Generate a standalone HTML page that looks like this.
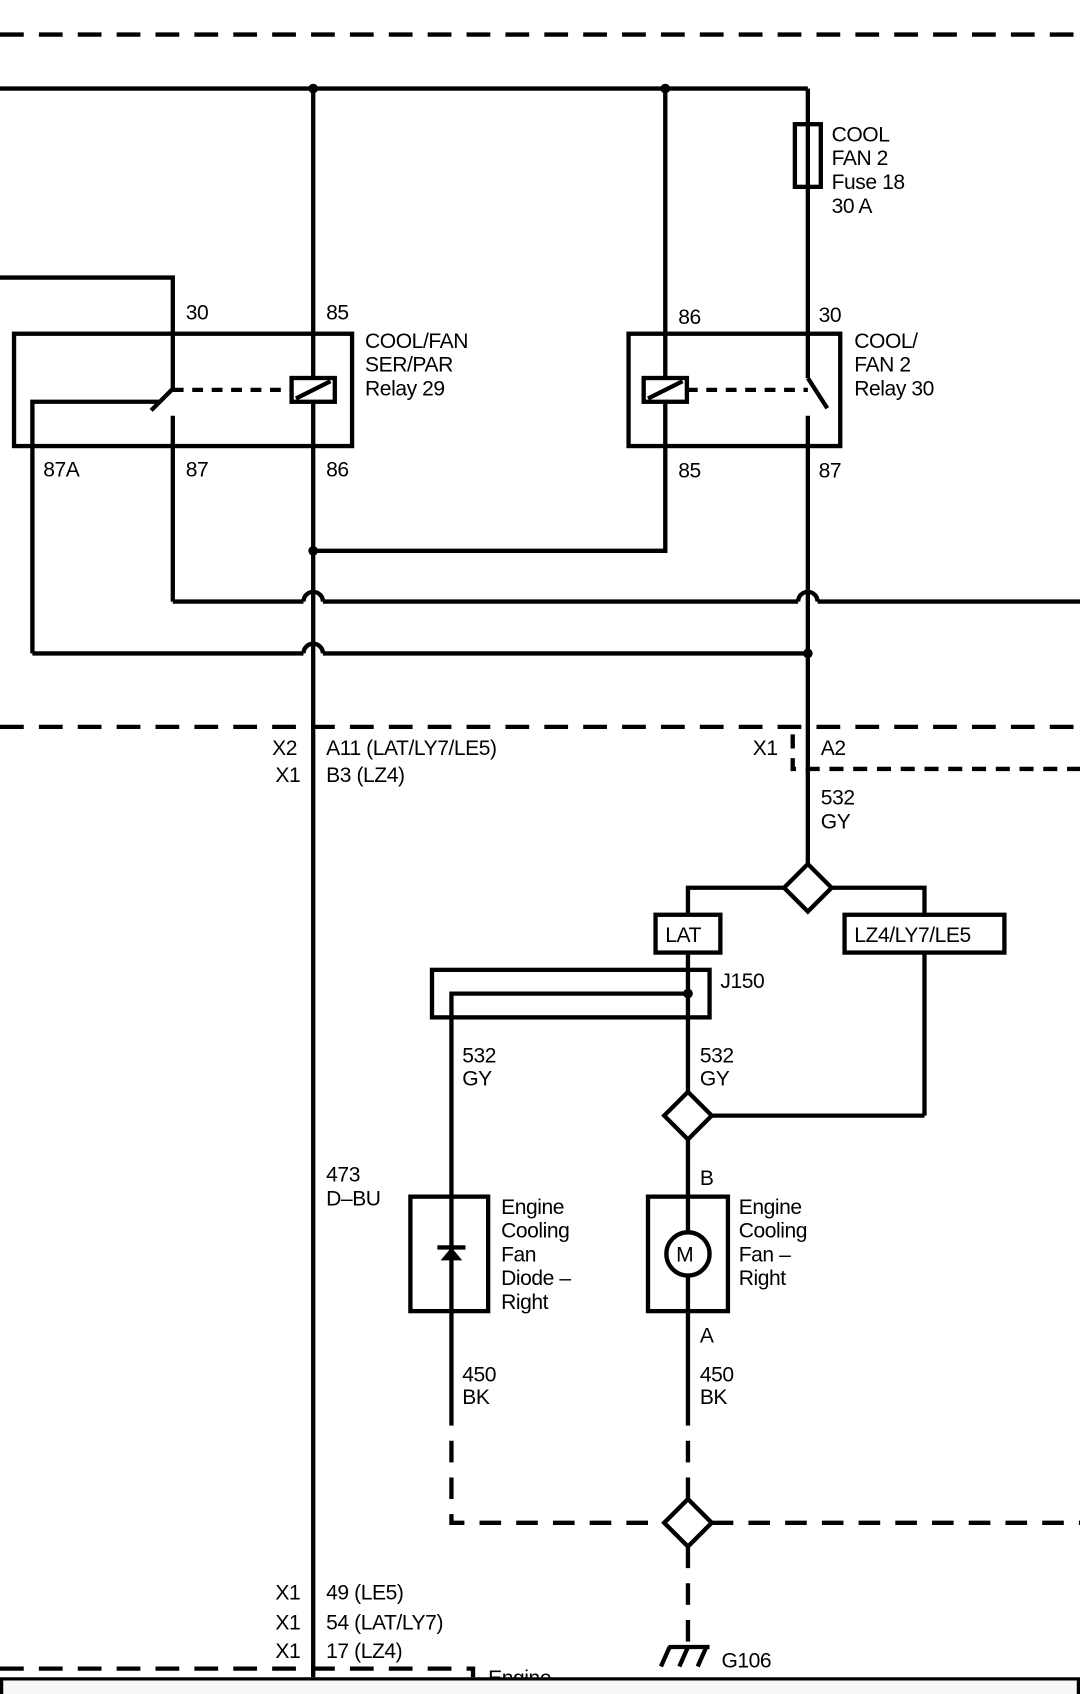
<!DOCTYPE html>
<html><head><meta charset="utf-8"><style>
html,body{margin:0;padding:0;background:#fff;}
svg{display:block;}
text{font-family:"Liberation Sans",Arial,sans-serif;font-size:19.5px;fill:#000;letter-spacing:-0.4px;}
</style></head><body>
<svg width="1080" height="1694" viewBox="0 0 1000 1568.5" xmlns="http://www.w3.org/2000/svg">
<g fill="none" stroke="#000" stroke-width="4">
<line x1="0" y1="32" x2="1000" y2="32" stroke-dasharray="22 14"/>
<line x1="0" y1="673" x2="1000" y2="673" stroke-dasharray="22 14"/>
<polyline points="734,680 734,712 1000,712" stroke-dasharray="13 9"/>
<polyline points="0,1545 438,1545 438,1553" stroke-dasharray="22 14"/>
<line x1="0" y1="82" x2="748" y2="82"/>
<line x1="290" y1="82" x2="290" y2="1553"/>
<polyline points="616,82 616,510 290,510"/>
<line x1="748" y1="82" x2="748" y2="350"/>
<rect x="736" y="115" width="24" height="58" fill="#fff"/>
<line x1="748" y1="115" x2="748" y2="173"/>
<rect x="13" y="309" width="313" height="104"/>
<polyline points="0,257 160,257 160,360"/>
<line x1="160" y1="360" x2="140" y2="380"/>
<polyline points="30,605 30,372 148,372"/>
<line x1="160" y1="385" x2="160" y2="557"/>
<line x1="160" y1="361" x2="270" y2="361" stroke-dasharray="10 8"/>
<rect x="270" y="350" width="40" height="22" fill="#fff"/>
<line x1="274" y1="369" x2="306" y2="353"/>
<rect x="582" y="309" width="196" height="104"/>
<rect x="596" y="350" width="40" height="22" fill="#fff"/>
<line x1="600" y1="369" x2="632" y2="353"/>
<line x1="636" y1="361" x2="748" y2="361" stroke-dasharray="10 8"/>
<line x1="748" y1="350" x2="766" y2="378"/>
<line x1="748" y1="385" x2="748" y2="800"/>
<line x1="160" y1="557" x2="281" y2="557"/>
<path d="M281,557 a9,9 0 0 1 18,0"/>
<line x1="299" y1="557" x2="739" y2="557"/>
<path d="M739,557 a9,9 0 0 1 18,0"/>
<line x1="757" y1="557" x2="1000" y2="557"/>
<line x1="30" y1="605" x2="281" y2="605"/>
<path d="M281,605 a9,9 0 0 1 18,0"/>
<line x1="299" y1="605" x2="748" y2="605"/>
<polygon points="748,800 770,822 748,844 726,822"/>
<polyline points="726,822 637,822 637,847"/>
<polyline points="770,822 856,822 856,847"/>
<rect x="607" y="847" width="60" height="35"/>
<rect x="782" y="847" width="148" height="35"/>
<line x1="637" y1="882" x2="637" y2="1011"/>
<line x1="856" y1="882" x2="856" y2="1033"/>
<line x1="856" y1="1033" x2="659" y2="1033"/>
<polygon points="637,1011 659,1033 637,1055 615,1033"/>
<rect x="400" y="898" width="257" height="44"/>
<polyline points="637,920 418,920 418,1300"/>
<line x1="637" y1="1055" x2="637" y2="1300"/>
<rect x="380" y="1108" width="72" height="106" fill="#fff"/>
<line x1="418" y1="1108" x2="418" y2="1214"/>
<line x1="405" y1="1155" x2="431" y2="1155"/>
<rect x="600" y="1108" width="74" height="106" fill="#fff"/>
<line x1="637" y1="1108" x2="637" y2="1214"/>
<circle cx="637" cy="1161" r="20" fill="#fff"/>
<polyline points="418,1300 418,1410 615,1410" stroke-dasharray="20 14"/>
<line x1="637" y1="1300" x2="637" y2="1388" stroke-dasharray="20 14"/>
<line x1="659" y1="1410" x2="1000" y2="1410" stroke-dasharray="20 14"/>
<polygon points="637,1388 659,1410 637,1432 615,1410"/>
<line x1="637" y1="1432" x2="637" y2="1524" stroke-dasharray="20 14"/>
<line x1="619" y1="1525" x2="657" y2="1525"/>
<line x1="620" y1="1525" x2="612" y2="1543"/>
<line x1="637" y1="1525" x2="629" y2="1543"/>
<line x1="654" y1="1525" x2="646" y2="1543"/>
</g>
<g fill="#000">
<circle cx="290" cy="82" r="4.5"/><circle cx="616" cy="82" r="4.5"/>
<circle cx="290" cy="510" r="4.5"/><circle cx="748" cy="605" r="4.5"/>
<circle cx="637" cy="920" r="4.5"/>
<polygon points="418,1155 408,1167 428,1167"/>
</g>
<g>
<text x="770" y="131">COOL</text><text x="770" y="153">FAN 2</text>
<text x="770" y="175">Fuse 18</text><text x="770" y="197">30 A</text>
<text x="172" y="296">30</text><text x="302" y="296">85</text>
<text x="338" y="322">COOL/FAN</text><text x="338" y="344">SER/PAR</text><text x="338" y="366">Relay 29</text>
<text x="40" y="441">87A</text><text x="172" y="441">87</text><text x="302" y="441">86</text>
<text x="628" y="300">86</text><text x="758" y="298">30</text>
<text x="791" y="322">COOL/</text><text x="791" y="344">FAN 2</text><text x="791" y="366">Relay 30</text>
<text x="628" y="442">85</text><text x="758" y="442">87</text>
<text x="252" y="699">X2</text><text x="302" y="699">A11 (LAT/LY7/LE5)</text>
<text x="255" y="724">X1</text><text x="302" y="724">B3 (LZ4)</text>
<text x="697" y="699">X1</text><text x="760" y="699">A2</text>
<text x="760" y="745">532</text><text x="760" y="767">GY</text>
<text x="616" y="872">LAT</text><text x="791" y="872">LZ4/LY7/LE5</text>
<text x="667" y="915">J150</text>
<text x="428" y="984">532</text><text x="428" y="1005">GY</text>
<text x="648" y="984">532</text><text x="648" y="1005">GY</text>
<text x="302" y="1094">473</text><text x="302" y="1116">D–BU</text>
<text x="648" y="1097">B</text>
<text x="464" y="1124">Engine</text><text x="464" y="1146">Cooling</text><text x="464" y="1168">Fan</text><text x="464" y="1190">Diode –</text><text x="464" y="1212">Right</text>
<text x="684" y="1124">Engine</text><text x="684" y="1146">Cooling</text><text x="684" y="1168">Fan –</text><text x="684" y="1190">Right</text>
<text x="626" y="1168" font-size="18">M</text>
<text x="648" y="1243">A</text>
<text x="428" y="1279">450</text><text x="428" y="1300">BK</text>
<text x="648" y="1279">450</text><text x="648" y="1300">BK</text>
<text x="255" y="1481">X1</text><text x="302" y="1481">49 (LE5)</text>
<text x="255" y="1509">X1</text><text x="302" y="1509">54 (LAT/LY7)</text>
<text x="255" y="1535">X1</text><text x="302" y="1535">17 (LZ4)</text>
<text x="668" y="1544">G106</text>
<text x="452" y="1560">Engine</text>
</g>
<rect x="1.5" y="1554.5" width="997" height="20" fill="#f7f7f7" stroke="#000" stroke-width="3"/>
</svg>
</body></html>
